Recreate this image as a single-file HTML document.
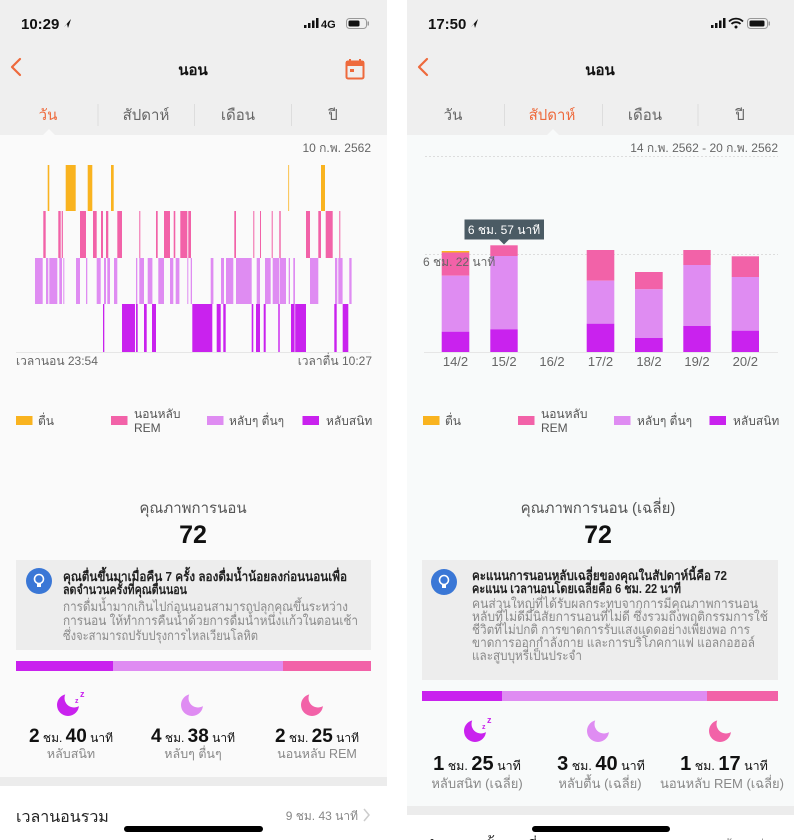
<!DOCTYPE html>
<html><head><meta charset="utf-8">
<style>
html,body{margin:0;padding:0;background:#fff;}
svg{display:block;font-family:"Liberation Sans","DejaVu Sans","Noto Sans CJK SC",sans-serif;}
</style></head>
<body>
<svg width="794" height="840" viewBox="0 0 794 840" xmlns="http://www.w3.org/2000/svg">
<!-- ========== LEFT PHONE ========== -->
<rect x="0" y="0" width="387" height="840" fill="#FAFAFA"/>
<rect x="0" y="0" width="387" height="135" fill="#EFEFEF"/>
<polygon points="43,135 49,129 55,135" fill="#FAFAFA"/>
<!-- status -->
<text x="21" y="29" font-size="15" font-weight="bold" fill="#111">10:29</text>
<polygon points="64,27 71,19 68,28 67,24" fill="#111"/>
<rect x="304" y="25" width="2.5" height="3" fill="#111"/>
<rect x="308" y="23" width="2.5" height="5" fill="#111"/>
<rect x="312" y="20.5" width="2.5" height="7.5" fill="#111"/>
<rect x="316" y="18" width="2.5" height="10" fill="#111"/>
<text x="321" y="28" font-size="11" font-weight="bold" fill="#111">4G</text>
<rect x="346.5" y="18.5" width="20" height="10" rx="3" fill="none" stroke="#999" stroke-width="1"/>
<rect x="348.5" y="20.5" width="11" height="6" rx="1.5" fill="#111"/>
<rect x="367.5" y="21.5" width="1.5" height="4" fill="#999"/>
<!-- nav -->
<polyline points="20,59 12,67 20,75" fill="none" stroke="#EE6A3C" stroke-width="2.2" stroke-linecap="round" stroke-linejoin="round"/>
<text x="193" y="75" font-size="15" font-weight="bold" fill="#111" text-anchor="middle">นอน</text>
<rect x="346.5" y="61.5" width="17" height="17" rx="1.5" fill="none" stroke="#EE6A3C" stroke-width="2"/>
<rect x="346" y="61" width="18" height="5" fill="#EE6A3C"/>
<rect x="349" y="59" width="2" height="4" fill="#EE6A3C"/>
<rect x="359" y="59" width="2" height="4" fill="#EE6A3C"/>
<rect x="350" y="69" width="4" height="3" fill="#EE6A3C"/>
<!-- tabs -->
<text x="48" y="120" font-size="15" fill="#EE6A3C" text-anchor="middle">วัน</text>
<text x="146" y="120" font-size="15" fill="#666" text-anchor="middle">สัปดาห์</text>
<text x="238" y="120" font-size="15" fill="#666" text-anchor="middle">เดือน</text>
<text x="333" y="120" font-size="15" fill="#666" text-anchor="middle">ปี</text>
<rect x="97.5" y="104" width="1" height="22" fill="#DDD"/>
<rect x="194" y="104" width="1" height="22" fill="#DDD"/>
<rect x="291" y="104" width="1" height="22" fill="#DDD"/>
<!-- chart -->
<text x="371" y="152" font-size="12" fill="#666" text-anchor="end">10 ก.พ. 2562</text>
<g fill="#F9B31F">
<rect x="47.7" y="165" width="1.6" height="46"/><rect x="65.7" y="165" width="10" height="46"/><rect x="87.7" y="165" width="4.6" height="46"/><rect x="111" y="165" width="2.7" height="46"/><rect x="288.3" y="165" width="0.8" height="46"/><rect x="321" y="165" width="4" height="46"/>
</g>
<g fill="#F262A8">
<rect x="43.3" y="211" width="2.4" height="47"/><rect x="58.3" y="211" width="2.4" height="47"/><rect x="61.7" y="211" width="1.2" height="47"/><rect x="80" y="211" width="6" height="47"/><rect x="93" y="211" width="3.7" height="47"/><rect x="101" y="211" width="2" height="47"/><rect x="106" y="211" width="2.3" height="47"/><rect x="117.3" y="211" width="4.7" height="47"/><rect x="139.3" y="211" width="1" height="47"/><rect x="156" y="211" width="1.7" height="47"/><rect x="164" y="211" width="6" height="47"/><rect x="173.7" y="211" width="1.6" height="47"/><rect x="180.3" y="211" width="7" height="47"/><rect x="188.3" y="211" width="2.7" height="47"/><rect x="234.3" y="211" width="1.7" height="47"/><rect x="253.3" y="211" width="1" height="47"/><rect x="260" y="211" width="1" height="47"/><rect x="271.7" y="211" width="1" height="47"/><rect x="279.3" y="211" width="1.4" height="47"/><rect x="306" y="211" width="4" height="47"/><rect x="318.3" y="211" width="2.7" height="47"/><rect x="325.7" y="211" width="7" height="47"/><rect x="339.3" y="211" width="1" height="47"/>
</g>
<g fill="#DF8CF2">
<rect x="35" y="258" width="7.7" height="46"/><rect x="46" y="258" width="2.3" height="46"/><rect x="49.3" y="258" width="8" height="46"/><rect x="59.3" y="258" width="2.7" height="46"/><rect x="63.3" y="258" width="1" height="46"/><rect x="76" y="258" width="4" height="46"/><rect x="86" y="258" width="1.3" height="46"/><rect x="96.7" y="258" width="4" height="46"/><rect x="104" y="258" width="2" height="46"/><rect x="107.3" y="258" width="2.7" height="46"/><rect x="114" y="258" width="3.3" height="46"/><rect x="136" y="258" width="1.3" height="46"/><rect x="139.3" y="258" width="4.7" height="46"/><rect x="147.7" y="258" width="4.7" height="46"/><rect x="158.3" y="258" width="5.7" height="46"/><rect x="170" y="258" width="3.3" height="46"/><rect x="175.7" y="258" width="3.7" height="46"/><rect x="187.3" y="258" width="1" height="46"/><rect x="190.7" y="258" width="1.3" height="46"/><rect x="210.7" y="258" width="2.7" height="46"/><rect x="221" y="258" width="3" height="46"/><rect x="226" y="258" width="7.3" height="46"/><rect x="236" y="258" width="15.7" height="46"/><rect x="256.7" y="258" width="3.3" height="46"/><rect x="265" y="258" width="5.7" height="46"/><rect x="272.7" y="258" width="6.7" height="46"/><rect x="280" y="258" width="6" height="46"/><rect x="288.7" y="258" width="1.3" height="46"/><rect x="293.3" y="258" width="1.7" height="46"/><rect x="310" y="258" width="8.3" height="46"/><rect x="335" y="258" width="2.3" height="46"/><rect x="338.3" y="258" width="4.3" height="46"/><rect x="349.3" y="258" width="2.3" height="46"/>
</g>
<g fill="#C922EE">
<rect x="103" y="304" width="1.3" height="48"/><rect x="122" y="304" width="13" height="48"/><rect x="136" y="304" width="1.7" height="48"/><rect x="144" y="304" width="2.7" height="48"/><rect x="152" y="304" width="4" height="48"/><rect x="192.3" y="304" width="20" height="48"/><rect x="216.7" y="304" width="4" height="48"/><rect x="223.3" y="304" width="2.4" height="48"/><rect x="251.7" y="304" width="1.6" height="48"/><rect x="256" y="304" width="4" height="48"/><rect x="263.7" y="304" width="2" height="48"/><rect x="278.3" y="304" width="1.4" height="48"/><rect x="291" y="304" width="3.6" height="48"/><rect x="295.2" y="304" width="10.8" height="48"/><rect x="334.3" y="304" width="2.4" height="48"/><rect x="342.7" y="304" width="5.6" height="48"/>
</g>
<rect x="16" y="352" width="355" height="1" fill="#E6E6E6"/>
<text x="16" y="365" font-size="12" fill="#666">เวลานอน 23:54</text>
<text x="372" y="365" font-size="12" fill="#666" text-anchor="end">เวลาตื่น 10:27</text>
<!-- legend -->
<rect x="16" y="416" width="16.5" height="9" fill="#F9B31F"/>
<text x="38" y="425" font-size="12" fill="#555">ตื่น</text>
<rect x="111" y="416" width="16.5" height="9" fill="#F262A8"/>
<text x="134" y="418" font-size="12" fill="#555">นอนหลับ</text>
<text x="134" y="432" font-size="12" fill="#555">REM</text>
<rect x="207" y="416" width="16.5" height="9" fill="#DF8CF2"/>
<text x="229" y="425" font-size="12" fill="#555">หลับๆ ตื่นๆ</text>
<rect x="302.5" y="416" width="16.5" height="9" fill="#C922EE"/>
<text x="326" y="425" font-size="12" fill="#555">หลับสนิท</text>
<!-- quality -->
<text x="193" y="513" font-size="15" fill="#555" text-anchor="middle">คุณภาพการนอน</text>
<text x="193" y="543" font-size="25" font-weight="bold" fill="#111" text-anchor="middle">72</text>
<!-- tip -->
<rect x="16" y="560" width="355" height="90" fill="#EDEDED"/>
<circle cx="39" cy="581" r="13" fill="#3A77D6"/>
<circle cx="39" cy="579" r="4.5" fill="none" stroke="#fff" stroke-width="1.6"/>
<rect x="37" y="583" width="4" height="4" fill="#fff"/>
<text x="63" y="581" font-size="13" font-weight="bold" fill="#222" textLength="284" lengthAdjust="spacingAndGlyphs">คุณตื่นขึ้นมาเมื่อคืน 7 ครั้ง ลองดื่มน้ำน้อยลงก่อนนอนเพื่อ</text>
<text x="63" y="594" font-size="13" font-weight="bold" fill="#222" textLength="124" lengthAdjust="spacingAndGlyphs">ลดจำนวนครั้งที่คุณตื่นนอน</text>
<text x="63" y="611" font-size="13" fill="#8A8A8A" textLength="285" lengthAdjust="spacingAndGlyphs">การดื่มน้ำมากเกินไปก่อนนอนสามารถปลุกคุณขึ้นระหว่าง</text>
<text x="63" y="625" font-size="13" fill="#8A8A8A" textLength="295" lengthAdjust="spacingAndGlyphs">การนอน ให้ทำการคืนน้ำด้วยการดื่มน้ำหนึ่งแก้วในตอนเช้า</text>
<text x="63" y="640" font-size="13" fill="#8A8A8A" textLength="195" lengthAdjust="spacingAndGlyphs">ซึ่งจะสามารถปรับปรุงการไหลเวียนโลหิต</text>
<!-- stacked bar -->
<rect x="16" y="661" width="97" height="10" fill="#C922EE"/>
<rect x="113" y="661" width="170" height="10" fill="#DF8CF2"/>
<rect x="283" y="661" width="88" height="10" fill="#F262A8"/>
<!-- icons -->
<circle cx="68" cy="705" r="11" fill="#C922EE"/><circle cx="74" cy="698" r="9.5" fill="#FAFAFA"/>
<text x="75" y="703" font-size="7" font-weight="bold" fill="#C922EE">z</text><text x="80" y="697" font-size="9" font-weight="bold" fill="#C922EE">z</text>
<circle cx="192" cy="705" r="11" fill="#DF8CF2"/><circle cx="198" cy="698" r="9.5" fill="#FAFAFA"/>
<circle cx="312" cy="705" r="11" fill="#F262A8"/><circle cx="318" cy="698" r="9.5" fill="#FAFAFA"/>
<!-- values -->
<text x="71" y="742" text-anchor="middle" fill="#111"><tspan font-size="19" font-weight="bold">2</tspan><tspan font-size="12"> ชม. </tspan><tspan font-size="19" font-weight="bold">40</tspan><tspan font-size="12"> นาที</tspan></text>
<text x="193" y="742" text-anchor="middle" fill="#111"><tspan font-size="19" font-weight="bold">4</tspan><tspan font-size="12"> ชม. </tspan><tspan font-size="19" font-weight="bold">38</tspan><tspan font-size="12"> นาที</tspan></text>
<text x="317" y="742" text-anchor="middle" fill="#111"><tspan font-size="19" font-weight="bold">2</tspan><tspan font-size="12"> ชม. </tspan><tspan font-size="19" font-weight="bold">25</tspan><tspan font-size="12"> นาที</tspan></text>
<text x="71" y="758" font-size="12.5" fill="#888" text-anchor="middle">หลับสนิท</text>
<text x="193" y="758" font-size="12.5" fill="#888" text-anchor="middle">หลับๆ ตื่นๆ</text>
<text x="317" y="758" font-size="12.5" fill="#888" text-anchor="middle">นอนหลับ REM</text>
<rect x="0" y="777" width="387" height="9" fill="#ECECEC"/>
<rect x="0" y="786" width="387" height="54" fill="#FFFFFF"/>
<text x="16" y="822" font-size="16" fill="#222">เวลานอนรวม</text>
<text x="358" y="820" font-size="12" fill="#888" text-anchor="end">9 ชม. 43 นาที</text>
<polyline points="364,809 369,815 364,821" fill="none" stroke="#CCC" stroke-width="1.5"/>
<rect x="124" y="826" width="139" height="6" rx="3" fill="#000"/>

<!-- ========== RIGHT PHONE ========== -->
<rect x="407" y="0" width="387" height="840" fill="#F8FAFA"/>
<rect x="407" y="0" width="387" height="135" fill="#EFEFEF"/>
<polygon points="547,135 553,129 559,135" fill="#F8FAFA"/>
<text x="428" y="29" font-size="15" font-weight="bold" fill="#111">17:50</text>
<polygon points="471,27 478,19 475,28 474,24" fill="#111"/>
<rect x="711" y="25" width="2.5" height="3" fill="#111"/>
<rect x="715" y="23" width="2.5" height="5" fill="#111"/>
<rect x="719" y="20.5" width="2.5" height="7.5" fill="#111"/>
<rect x="723" y="18" width="2.5" height="10" fill="#111"/>
<path d="M729,21.5 A10,10 0 0 1 743,21.5" fill="none" stroke="#111" stroke-width="1.8"/>
<path d="M731.5,24 A6.5,6.5 0 0 1 740.5,24" fill="none" stroke="#111" stroke-width="1.8"/>
<circle cx="736" cy="27" r="1.5" fill="#111"/>
<rect x="747.5" y="18.5" width="20" height="10" rx="3" fill="none" stroke="#999" stroke-width="1"/>
<rect x="749.5" y="20.5" width="15" height="6" rx="1.5" fill="#111"/>
<rect x="768.5" y="21.5" width="1.5" height="4" fill="#999"/>
<polyline points="427,59 419,67 427,75" fill="none" stroke="#EE6A3C" stroke-width="2.2" stroke-linecap="round" stroke-linejoin="round"/>
<text x="600" y="75" font-size="15" font-weight="bold" fill="#111" text-anchor="middle">นอน</text>
<text x="453" y="120" font-size="15" fill="#666" text-anchor="middle">วัน</text>
<text x="552" y="120" font-size="15" fill="#EE6A3C" text-anchor="middle">สัปดาห์</text>
<text x="645" y="120" font-size="15" fill="#666" text-anchor="middle">เดือน</text>
<text x="740" y="120" font-size="15" fill="#666" text-anchor="middle">ปี</text>
<rect x="504" y="104" width="1" height="22" fill="#DDD"/>
<rect x="602" y="104" width="1" height="22" fill="#DDD"/>
<rect x="697.5" y="104" width="1" height="22" fill="#DDD"/>
<!-- bar chart -->
<text x="778" y="152" font-size="12" fill="#666" text-anchor="end">14 ก.พ. 2562 - 20 ก.พ. 2562</text>
<line x1="425" y1="156.5" x2="778" y2="156.5" stroke="#DDD" stroke-width="1" stroke-dasharray="2,2"/>
<line x1="425" y1="254.5" x2="778" y2="254.5" stroke="#DDD" stroke-width="1" stroke-dasharray="2,2"/>
<!-- 14/2 -->
<rect x="441.7" y="251" width="27.6" height="1.5" fill="#F9B31F"/>
<rect x="441.7" y="252.5" width="27.6" height="23.2" fill="#F262A8"/>
<rect x="441.7" y="275.7" width="27.6" height="56" fill="#DF8CF2"/>
<rect x="441.7" y="331.7" width="27.6" height="20.3" fill="#C922EE"/>
<!-- 15/2 -->
<rect x="490.3" y="245.3" width="27.4" height="10.7" fill="#F262A8"/>
<rect x="490.3" y="256" width="27.4" height="73.3" fill="#DF8CF2"/>
<rect x="490.3" y="329.3" width="27.4" height="22.7" fill="#C922EE"/>
<!-- 17/2 -->
<rect x="586.7" y="250" width="27.6" height="30.7" fill="#F262A8"/>
<rect x="586.7" y="280.7" width="27.6" height="43" fill="#DF8CF2"/>
<rect x="586.7" y="323.7" width="27.6" height="28.3" fill="#C922EE"/>
<!-- 18/2 -->
<rect x="635" y="272" width="27.7" height="17.3" fill="#F262A8"/>
<rect x="635" y="289.3" width="27.7" height="48.7" fill="#DF8CF2"/>
<rect x="635" y="338" width="27.7" height="14" fill="#C922EE"/>
<!-- 19/2 -->
<rect x="683.3" y="250" width="27.4" height="15" fill="#F262A8"/>
<rect x="683.3" y="265" width="27.4" height="61" fill="#DF8CF2"/>
<rect x="683.3" y="326" width="27.4" height="26" fill="#C922EE"/>
<!-- 20/2 -->
<rect x="731.7" y="256.3" width="27.3" height="20.7" fill="#F262A8"/>
<rect x="731.7" y="277" width="27.3" height="53.7" fill="#DF8CF2"/>
<rect x="731.7" y="330.7" width="27.3" height="21.3" fill="#C922EE"/>
<rect x="424" y="352" width="354" height="1" fill="#E6E6E6"/>
<text x="423" y="266" font-size="12" fill="#666">6 ชม. 22 นาที</text>
<!-- tooltip -->
<rect x="464.5" y="219.5" width="79.5" height="20" fill="#4B5B64"/>
<polygon points="499,239.5 509,239.5 504,244.5" fill="#4B5B64"/>
<text x="504" y="234" font-size="12" fill="#fff" text-anchor="middle">6 ชม. 57 นาที</text>
<g font-size="13" fill="#666" text-anchor="middle">
<text x="455.5" y="366">14/2</text><text x="504" y="366">15/2</text><text x="552" y="366">16/2</text><text x="600.5" y="366">17/2</text><text x="649" y="366">18/2</text><text x="697" y="366">19/2</text><text x="745.3" y="366">20/2</text>
</g>
<!-- legend -->
<rect x="423" y="416" width="16.5" height="9" fill="#F9B31F"/>
<text x="445" y="425" font-size="12" fill="#555">ตื่น</text>
<rect x="518" y="416" width="16.5" height="9" fill="#F262A8"/>
<text x="541" y="418" font-size="12" fill="#555">นอนหลับ</text>
<text x="541" y="432" font-size="12" fill="#555">REM</text>
<rect x="614" y="416" width="16.5" height="9" fill="#DF8CF2"/>
<text x="637" y="425" font-size="12" fill="#555">หลับๆ ตื่นๆ</text>
<rect x="709.5" y="416" width="16.5" height="9" fill="#C922EE"/>
<text x="733" y="425" font-size="12" fill="#555">หลับสนิท</text>
<text x="598" y="513" font-size="15" fill="#555" text-anchor="middle">คุณภาพการนอน (เฉลี่ย)</text>
<text x="598" y="543" font-size="25" font-weight="bold" fill="#111" text-anchor="middle">72</text>
<!-- tip -->
<rect x="422" y="560" width="356" height="120" fill="#EDEDED"/>
<circle cx="444" cy="582" r="13" fill="#3A77D6"/>
<circle cx="444" cy="580" r="4.5" fill="none" stroke="#fff" stroke-width="1.6"/>
<rect x="442" y="584" width="4" height="4" fill="#fff"/>
<text x="472" y="580" font-size="13" font-weight="bold" fill="#222" textLength="255" lengthAdjust="spacingAndGlyphs">คะแนนการนอนหลับเฉลี่ยของคุณในสัปดาห์นี้คือ 72</text>
<text x="472" y="593" font-size="13" font-weight="bold" fill="#222" textLength="209" lengthAdjust="spacingAndGlyphs">คะแนน เวลานอนโดยเฉลี่ยคือ 6 ชม. 22 นาที</text>
<text x="472" y="608" font-size="13" fill="#8A8A8A" textLength="286" lengthAdjust="spacingAndGlyphs">คนส่วนใหญ่ที่ได้รับผลกระทบจากการมีคุณภาพการนอน</text>
<text x="472" y="621" font-size="13" fill="#8A8A8A" textLength="296" lengthAdjust="spacingAndGlyphs">หลับที่ไม่ดีมีนิสัยการนอนที่ไม่ดี ซึ่งรวมถึงพฤติกรรมการใช้</text>
<text x="472" y="634" font-size="13" fill="#8A8A8A" textLength="278" lengthAdjust="spacingAndGlyphs">ชีวิตที่ไม่ปกติ การขาดการรับแสงแดดอย่างเพียงพอ การ</text>
<text x="472" y="647" font-size="13" fill="#8A8A8A" textLength="283" lengthAdjust="spacingAndGlyphs">ขาดการออกกำลังกาย และการบริโภคกาแฟ แอลกอฮอล์</text>
<text x="472" y="660" font-size="13" fill="#8A8A8A" textLength="110" lengthAdjust="spacingAndGlyphs">และสูบบุหรี่เป็นประจำ</text>
<!-- stacked bar -->
<rect x="422" y="691" width="80" height="10" fill="#C922EE"/>
<rect x="502" y="691" width="205" height="10" fill="#DF8CF2"/>
<rect x="707" y="691" width="71" height="10" fill="#F262A8"/>
<!-- icons -->
<circle cx="475" cy="731" r="11" fill="#C922EE"/><circle cx="481" cy="724" r="9.5" fill="#F8FAFA"/>
<text x="482" y="729" font-size="7" font-weight="bold" fill="#C922EE">z</text><text x="487" y="723" font-size="9" font-weight="bold" fill="#C922EE">z</text>
<circle cx="598" cy="731" r="11" fill="#DF8CF2"/><circle cx="604" cy="724" r="9.5" fill="#F8FAFA"/>
<circle cx="720" cy="731" r="11" fill="#F262A8"/><circle cx="726" cy="724" r="9.5" fill="#F8FAFA"/>
<text x="477" y="770" text-anchor="middle" fill="#111"><tspan font-size="20" font-weight="bold">1</tspan><tspan font-size="12.5"> ชม. </tspan><tspan font-size="20" font-weight="bold">25</tspan><tspan font-size="12.5"> นาที</tspan></text>
<text x="601" y="770" text-anchor="middle" fill="#111"><tspan font-size="20" font-weight="bold">3</tspan><tspan font-size="12.5"> ชม. </tspan><tspan font-size="20" font-weight="bold">40</tspan><tspan font-size="12.5"> นาที</tspan></text>
<text x="724" y="770" text-anchor="middle" fill="#111"><tspan font-size="20" font-weight="bold">1</tspan><tspan font-size="12.5"> ชม. </tspan><tspan font-size="20" font-weight="bold">17</tspan><tspan font-size="12.5"> นาที</tspan></text>
<text x="477" y="788" font-size="13" fill="#888" text-anchor="middle">หลับสนิท (เฉลี่ย)</text>
<text x="600" y="788" font-size="13" fill="#888" text-anchor="middle">หลับตื้น (เฉลี่ย)</text>
<text x="722" y="788" font-size="13" fill="#888" text-anchor="middle">นอนหลับ REM (เฉลี่ย)</text>
<rect x="407" y="806" width="387" height="9" fill="#ECECEC"/>
<rect x="407" y="815" width="387" height="25" fill="#FFFFFF"/>
<text x="425" y="852" font-size="16" fill="#222">จำนวนครั้ง (เฉลี่ย)</text>
<text x="775" y="851" font-size="12" fill="#888" text-anchor="end">1 ครั้ง (เฉลี่ย)</text>
<rect x="532" y="826" width="138" height="6" rx="3" fill="#000"/>
</svg>
</body></html>
